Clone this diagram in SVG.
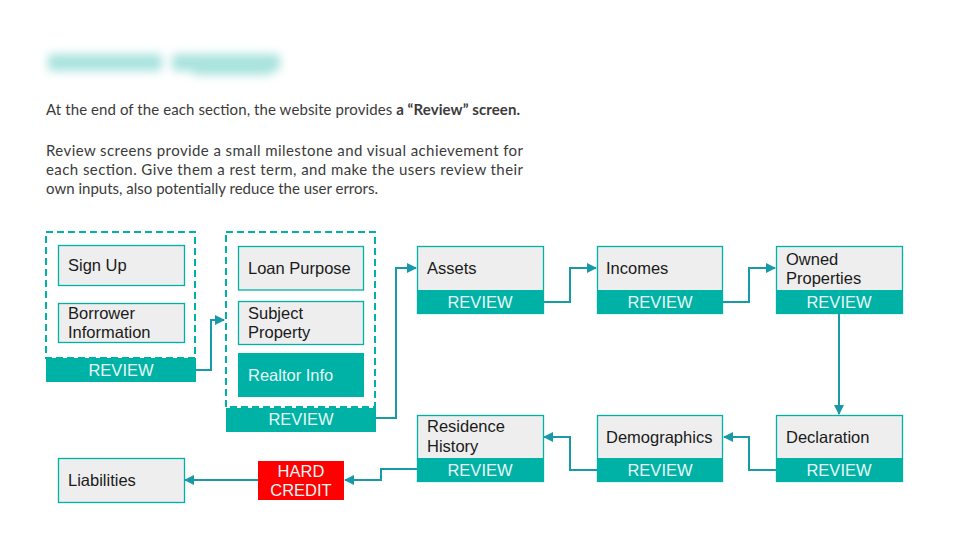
<svg xmlns="http://www.w3.org/2000/svg" width="960" height="540" viewBox="0 0 960 540">
<defs>
<style>
.box{fill:#EEEEEE;stroke:#00B2A5;stroke-width:1.3}
.rev{fill:#00B2A5}
.dash{fill:none;stroke:#00B2A5;stroke-width:2;stroke-dasharray:7 4}
.t{font-family:"Liberation Sans",Arial,sans-serif;font-size:16.5px;fill:#1a1a1a}
.w{font-family:"Liberation Sans",Arial,sans-serif;font-size:16.5px;fill:#E6F7F5}
.wc{font-family:"Liberation Sans",Arial,sans-serif;font-size:16.5px;fill:#E6F7F5;text-anchor:middle}
.p{font-family:Lato,"Open Sans",sans-serif;font-size:15px;fill:#3b3b3b}
.c{fill:none;stroke:#1899A8;stroke-width:2}
</style>
<marker id="ah" viewBox="0 0 10 10" refX="9" refY="5" markerWidth="5" markerHeight="5" orient="auto" markerUnits="strokeWidth">
<path d="M0,0 L10,5 L0,10 z" fill="#1899A8"/>
</marker>
<filter id="blur" x="-20%" y="-150%" width="140%" height="400%"><feGaussianBlur stdDeviation="5"/></filter>
</defs>
<rect width="960" height="540" fill="#FFFFFF"/>

<g id="title" filter="url(#blur)" fill="#A9E3DE">
<rect x="48" y="54" width="114" height="17" rx="4"/>
<rect x="172" y="54" width="108" height="17" rx="4"/>
<rect x="192" y="62" width="80" height="13" rx="4"/>
</g>

<g id="intro">
<text class="p" x="46" y="115" textLength="474" lengthAdjust="spacing">At the end of the each section, the website provides <tspan font-weight="bold">a “Review” screen.</tspan></text>
<text class="p" x="46" y="156" textLength="477" lengthAdjust="spacing">Review screens provide a small milestone and visual achievement for</text>
<text class="p" x="46" y="175" textLength="477" lengthAdjust="spacing">each section. Give them a rest term, and make the users review their</text>
<text class="p" x="46" y="194" textLength="332" lengthAdjust="spacing">own inputs, also potentially reduce the user errors.</text>
</g>

<g id="connectors">
<polyline class="c" points="195,370 211,370 211,320 224,320" marker-end="url(#ah)"/>
<polyline class="c" points="376,418 396,418 396,268 416,268" marker-end="url(#ah)"/>
<polyline class="c" points="543,302 570,302 570,268 596,268" marker-end="url(#ah)"/>
<polyline class="c" points="723,302 749,302 749,268 775,268" marker-end="url(#ah)"/>
<polyline class="c" points="839,313 839,414" marker-end="url(#ah)"/>
<polyline class="c" points="776,470 749,470 749,437 724,437" marker-end="url(#ah)"/>
<polyline class="c" points="597,470 570,470 570,437 544,437" marker-end="url(#ah)"/>
<polyline class="c" points="417,469 381,469 381,480 345,480" marker-end="url(#ah)"/>
<polyline class="c" points="258,480 185,480" marker-end="url(#ah)"/>
</g>

<g id="group1">
<rect class="dash" x="46" y="232" width="149" height="126"/>
<g id="signup"><rect class="box" x="58.5" y="245.5" width="126" height="40"/><text class="t" x="68" y="271">Sign Up</text></g>
<g id="borrower"><rect class="box" x="58.5" y="303.5" width="126" height="39"/><text class="t" x="68" y="319">Borrower</text><text class="t" x="68" y="338">Information</text></g>
<g id="review1"><rect class="rev" x="46" y="358" width="150" height="24"/><text class="wc" x="121" y="376">REVIEW</text></g>
</g>

<g id="group2">
<rect class="dash" x="226" y="232" width="149" height="175"/>
<g id="loanpurpose"><rect class="box" x="238.5" y="246.5" width="125" height="43.5"/><text class="t" x="248" y="274">Loan Purpose</text></g>
<g id="subject"><rect class="box" x="238.5" y="301.5" width="125" height="43"/><text class="t" x="248" y="319">Subject</text><text class="t" x="248" y="338">Property</text></g>
<g id="realtor"><rect class="rev" x="238" y="353" width="126" height="44"/><text class="w" x="248" y="381">Realtor Info</text></g>
<g id="review2"><rect class="rev" x="226" y="408" width="150" height="24"/><text class="wc" x="301" y="425">REVIEW</text></g>
</g>

<g id="assets"><rect class="box" x="417.5" y="246.5" width="126" height="67"/><rect class="rev" x="417" y="290" width="127" height="24"/><text class="t" x="427" y="274">Assets</text><text class="wc" x="480" y="308">REVIEW</text></g>
<g id="incomes"><rect class="box" x="597.5" y="246.5" width="125" height="67"/><rect class="rev" x="597" y="290" width="126" height="24"/><text class="t" x="606" y="274">Incomes</text><text class="wc" x="660" y="308">REVIEW</text></g>
<g id="owned"><rect class="box" x="776.5" y="246.5" width="126" height="67"/><rect class="rev" x="776" y="290" width="127" height="24"/><text class="t" x="786" y="265">Owned</text><text class="t" x="786" y="284">Properties</text><text class="wc" x="839" y="308">REVIEW</text></g>

<g id="declaration"><rect class="box" x="776.5" y="415.5" width="126" height="66"/><rect class="rev" x="776" y="458" width="127" height="24"/><text class="t" x="786" y="443">Declaration</text><text class="wc" x="839" y="476">REVIEW</text></g>
<g id="demographics"><rect class="box" x="597.5" y="415.5" width="125" height="66"/><rect class="rev" x="597" y="458" width="126" height="24"/><text class="t" x="606" y="443">Demographics</text><text class="wc" x="660" y="476">REVIEW</text></g>
<g id="residence"><rect class="box" x="417.5" y="415.5" width="126" height="66"/><rect class="rev" x="417" y="458" width="127" height="24"/><text class="t" x="427" y="432">Residence</text><text class="t" x="427" y="452">History</text><text class="wc" x="480" y="476">REVIEW</text></g>

<g id="hardcredit"><rect x="258" y="461" width="86" height="39" fill="#FF0000"/><text class="wc" x="301" y="477">HARD</text><text class="wc" x="301" y="496">CREDIT</text></g>
<g id="liabilities"><rect class="box" x="58.5" y="458.5" width="126" height="44"/><text class="t" x="68" y="486">Liabilities</text></g>
</svg>
